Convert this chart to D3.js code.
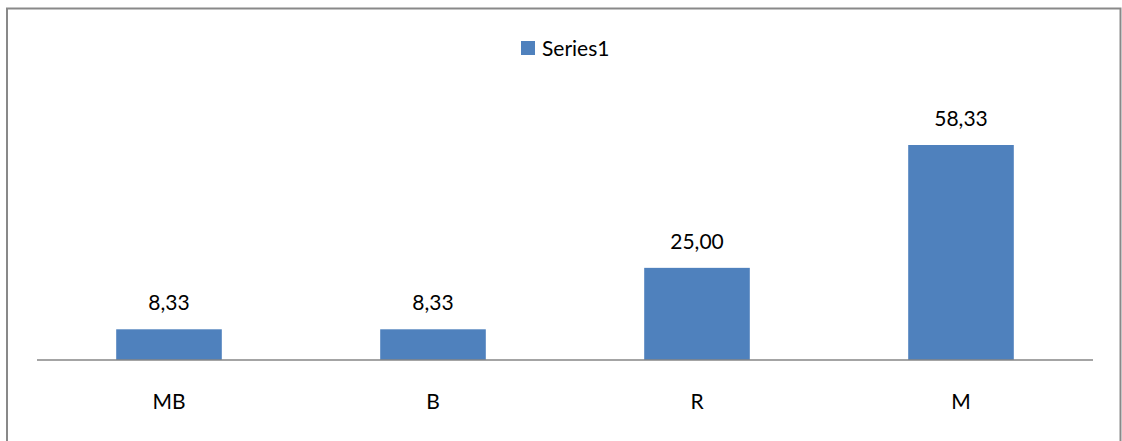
<!DOCTYPE html>
<html><head><meta charset="utf-8">
<script src="https://cdn.jsdelivr.net/npm/d3@7"></script>
<style>body{margin:0;background:#fff}svg{display:block}</style>
</head><body>
<script>
const categories = ["MB", "B", "R", "M"];
const values = [8.33, 8.33, 25.00, 58.33];
const seriesName = "Series1";

const W = 1122, H = 441;
const svg = d3.select("body").append("svg").attr("width", W).attr("height", H);
const font = "Lato, 'Open Sans', sans-serif";

svg.append("rect").attr("x", 7).attr("y", 8.5).attr("width", 1113.5).attr("height", 440)
  .attr("fill", "#fff").attr("stroke", "#898989").attr("stroke-width", 2);

const x = d3.scaleBand().domain(categories).range([37, 1093]).paddingInner(0.6).paddingOuter(0.3);
const y = d3.scaleLinear().domain([0, 58.33]).range([360, 145]);

svg.selectAll("rect.bar").data(values).join("rect").attr("class", "bar")
  .attr("x", (d, i) => x(categories[i])).attr("width", x.bandwidth())
  .attr("y", d => y(d)).attr("height", d => y(0) - y(d))
  .attr("fill", "#4f81bd");

svg.append("line").attr("x1", 37).attr("x2", 1093).attr("y1", 360).attr("y2", 360)
  .attr("stroke", "#868686").attr("stroke-width", 1.5);

svg.selectAll("text.val").data(values).join("text").attr("class", "val")
  .attr("x", (d, i) => x(categories[i]) + x.bandwidth() / 2)
  .attr("y", d => y(d) - 19)
  .attr("text-anchor", "middle").attr("font-family", font).attr("font-size", 21)
  .attr("fill", "#000").text(d => d.toFixed(2).replace(".", ","));

svg.selectAll("text.cat").data(categories).join("text").attr("class", "cat")
  .attr("x", d => x(d) + x.bandwidth() / 2).attr("y", 409)
  .attr("text-anchor", "middle").attr("font-family", font).attr("font-size", 21)
  .attr("fill", "#000").text(d => d);

const lg = svg.append("g");
lg.append("rect").attr("x", 521).attr("y", 41).attr("width", 14).attr("height", 14).attr("fill", "#4f81bd");
lg.append("text").attr("x", 542).attr("y", 56).attr("font-family", font).attr("font-size", 21)
  .attr("fill", "#000").text(seriesName);
</script>
</body></html>
